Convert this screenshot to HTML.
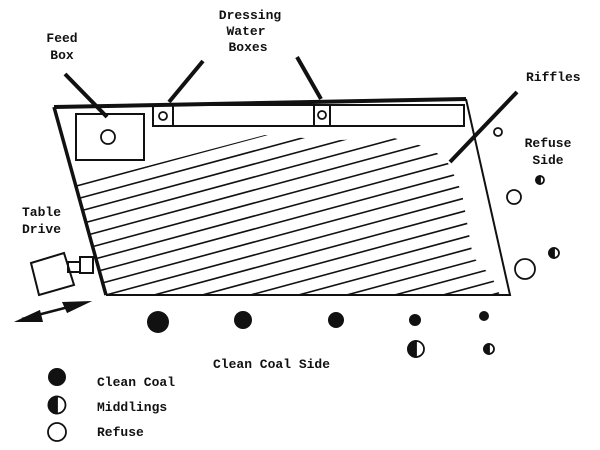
<!DOCTYPE html>
<html><head><style>
body{margin:0;background:#fff}
svg{display:block}
text{font-family:"Liberation Mono",monospace;font-weight:bold;font-size:13px;fill:#111}
</style></head><body>
<svg width="600" height="450" viewBox="0 0 600 450" xmlns="http://www.w3.org/2000/svg">
<defs>
<clipPath id="c"><polygon points="55,107 75,185 265,135 304,138 340,140 394,138 419,145 437,153 448,163 454,175 462,193 473,257 492,277 500,295 106,295"/></clipPath>
</defs>
<g clip-path="url(#c)" stroke="#111" stroke-width="1.6">
<line x1="0" y1="206.6" x2="600" y2="44.6"/>
<line x1="0" y1="219.6" x2="600" y2="57.6"/>
<line x1="0" y1="232.6" x2="600" y2="70.6"/>
<line x1="0" y1="245.6" x2="600" y2="83.6"/>
<line x1="0" y1="258.6" x2="600" y2="96.6"/>
<line x1="0" y1="271.6" x2="600" y2="109.6"/>
<line x1="0" y1="284.6" x2="600" y2="122.6"/>
<line x1="0" y1="297.6" x2="600" y2="135.6"/>
<line x1="0" y1="310.6" x2="600" y2="148.6"/>
<line x1="0" y1="323.6" x2="600" y2="161.6"/>
<line x1="0" y1="336.6" x2="600" y2="174.6"/>
<line x1="0" y1="349.6" x2="600" y2="187.6"/>
<line x1="0" y1="362.6" x2="600" y2="200.6"/>
<line x1="0" y1="375.6" x2="600" y2="213.6"/>
<line x1="0" y1="388.6" x2="600" y2="226.6"/>
<line x1="0" y1="401.6" x2="600" y2="239.6"/>
<line x1="0" y1="414.6" x2="600" y2="252.6"/>
<line x1="0" y1="427.6" x2="600" y2="265.6"/>
</g>
<g fill="none" stroke="#111">
<polyline points="466,99 510,295 106,295" stroke-width="2"/>
<line x1="54" y1="107" x2="466" y2="99" stroke-width="4"/>
<line x1="54" y1="107" x2="106" y2="295" stroke-width="3.5"/>
<rect x="153" y="105" width="311" height="21" stroke-width="2"/>
<line x1="173" y1="105" x2="173" y2="126" stroke-width="2"/>
<line x1="314" y1="105" x2="314" y2="126" stroke-width="2"/>
<line x1="330" y1="105" x2="330" y2="126" stroke-width="2"/>
<circle cx="163" cy="116" r="4" stroke-width="1.8"/>
<circle cx="322" cy="115" r="4" stroke-width="1.8"/>
<rect x="76" y="114" width="68" height="46" stroke-width="2"/>
<circle cx="108" cy="137" r="7" stroke-width="1.8"/>
<line x1="65" y1="74" x2="107" y2="117" stroke-width="4"/>
<line x1="203" y1="61" x2="169" y2="102" stroke-width="4"/>
<line x1="297" y1="57" x2="321" y2="99" stroke-width="4"/>
<line x1="517" y1="92" x2="450" y2="162" stroke-width="4"/>
<polygon points="31,263 64,253 74,285 39,295" stroke-width="2"/>
<rect x="68" y="262" width="12" height="10" stroke-width="2"/>
<rect x="80" y="257" width="13" height="16" stroke-width="2"/>
<line x1="22" y1="319" x2="84" y2="303" stroke-width="2.5"/>
</g>
<polygon points="14,322 40,310 38,318" fill="#111"/>
<polygon points="14,322 40,310 43,322" fill="#111"/>
<polygon points="92,301 67,313 62,302" fill="#111"/>
<polygon points="92,301 67,313 70,305" fill="#111"/>
<g fill="#111">
<circle cx="158" cy="322" r="11"/><circle cx="243" cy="320" r="9"/><circle cx="336" cy="320" r="8"/><circle cx="415" cy="320" r="6"/><circle cx="484" cy="316" r="5"/>
<circle cx="57" cy="377" r="9"/>
</g>
<g stroke="#111" stroke-width="1.8" fill="#fff">
<circle cx="498" cy="132" r="4"/><circle cx="514" cy="197" r="7"/><circle cx="525" cy="269" r="10"/>
<circle cx="57" cy="432" r="9"/>
</g>
<g stroke="#111" stroke-width="1.8">
<circle cx="540" cy="180" r="4" fill="#fff"/><path d="M540,176 A4,4 0 0 0 540,184Z" fill="#111"/>
<circle cx="554" cy="253" r="5" fill="#fff"/><path d="M554,248 A5,5 0 0 0 554,258Z" fill="#111"/>
<circle cx="416" cy="349" r="8" fill="#fff"/><path d="M416,341 A8,8 0 0 0 416,357Z" fill="#111"/>
<circle cx="489" cy="349" r="5" fill="#fff"/><path d="M489,344 A5,5 0 0 0 489,354Z" fill="#111"/>
<circle cx="57" cy="405" r="8.5" fill="#fff"/><path d="M57,396.5 A8.5,8.5 0 0 0 57,413.5Z" fill="#111"/>
</g>
<text x="62" y="42" text-anchor="middle">Feed</text>
<text x="62" y="59" text-anchor="middle">Box</text>
<text x="250" y="19" text-anchor="middle">Dressing</text>
<text x="246" y="35" text-anchor="middle">Water</text>
<text x="248" y="51" text-anchor="middle">Boxes</text>
<text x="526" y="81">Riffles</text>
<text x="548" y="147" text-anchor="middle">Refuse</text>
<text x="548" y="164" text-anchor="middle">Side</text>
<text x="22" y="216">Table</text>
<text x="22" y="233">Drive</text>
<text x="213" y="368">Clean Coal Side</text>
<text x="97" y="386">Clean Coal</text>
<text x="97" y="411">Middlings</text>
<text x="97" y="436">Refuse</text>
</svg>
</body></html>
